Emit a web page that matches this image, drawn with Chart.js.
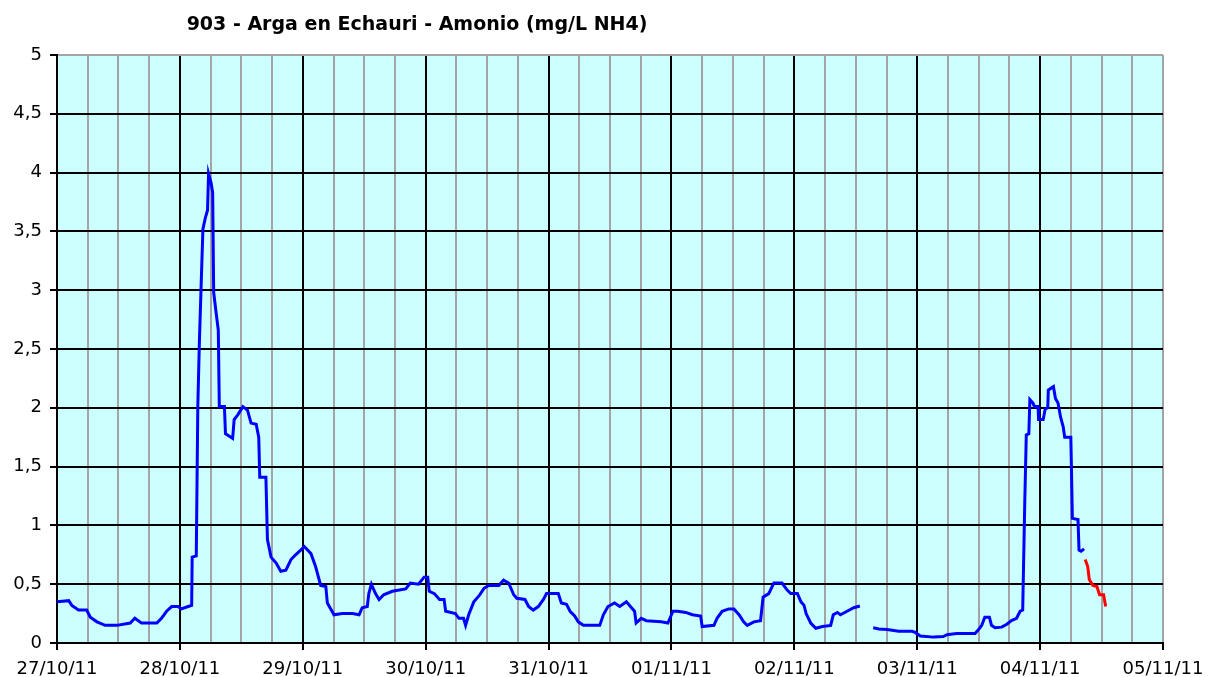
<!doctype html>
<html lang="es">
<head>
<meta charset="utf-8">
<title>903 - Arga en Echauri - Amonio</title>
<style>
  body { margin: 0; background: #fff; }
  #wrap { position: relative; width: 1208px; height: 677px; }
</style>
</head>
<body>
<div id="wrap"><canvas id="chart" width="1208" height="677"></canvas></div>

<script src="https://cdn.jsdelivr.net/npm/chart.js"></script>
<script>
    const chartTitle = '903 - Arga en Echauri - Amonio (mg/L NH4)';

    // etiquetas de día (una cada 24 h desde 27/10/11 00:00)
    const dayLabels = ['27/10/11', '28/10/11', '29/10/11', '30/10/11', '31/10/11',
        '01/11/11', '02/11/11', '03/11/11', '04/11/11', '05/11/11'];

    // serie azul: horas desde 27/10/11 00:00 y valor (null = hueco)
    const blueHours = [
        0, 2.3, 2.9, 4.2, 5.8, 6.5, 7.8, 9.4, 11.7, 14.3, 15.2, 16.5, 19.5, 20.4, 21.4, 22.4, 23.6, 24.3, 25.6, 26.3,
        26.4, 27.2, 27.5, 27.8, 28.2, 28.5, 29.0, 29.4, 29.6, 30.1, 30.4, 30.6, 31.1, 31.5, 31.7, 32.7, 32.9, 34.3,
        34.6, 35.3, 36.3, 37.2, 37.9, 38.9, 39.4, 39.6, 40.8, 41.1, 41.8, 42.8, 43.7, 44.7, 45.7, 46.6, 47.6, 48.3,
        49.6, 50.5, 51.5, 52.5, 52.8, 54.1, 55.7, 57.7, 59.0, 59.6, 60.6, 60.9, 61.4, 62.2, 62.9, 63.8, 65.5, 68.1,
        69.0, 70.6, 71.7, 72.4, 72.7, 73.7, 74.7, 75.6, 75.9, 77.8, 78.5, 79.4, 79.8, 80.4, 81.4, 82.4, 83.4, 84.3,
        86.3, 87.2, 88.2, 89.2, 89.8, 91.4, 92.1, 93.0, 94.0, 95.0, 95.6, 97.9, 98.5, 99.5, 100.2, 101.1, 101.8,
        102.8, 106.0, 106.7, 107.6, 108.9, 109.9, 111.2, 112.2, 112.8, 113.1, 114.1, 115.1, 118.0, 119.3, 120.0,
        120.3, 121.2, 122.8, 124.1, 125.7, 126.0, 128.3, 128.9, 129.9, 131.2, 132.2, 133.2, 134.1, 134.8, 136.1,
        137.4, 137.9, 139.0, 140.0, 141.6, 142.6, 143.3, 144.6, 145.3, 145.9, 146.3, 147.2, 148.2, 149.5, 151.1,
        151.6, 152.4, 153.0, 154.3, 155.6, 156.8, 158.0, 159.4, 160.5, 162.1, 164.4, 167.0, 167.6, 168.6, 171.2,
        173.1, 173.8, 175.7, 179.3, 179.9, 180.6, 181.2, 182.1, 182.5, 183.2, 184.5, 185.5, 186.4, 187.4, 188.1,
        188.6, 189.0, 189.3, 189.8, 190.0, 190.6, 190.9, 191.6, 191.7, 192.6, 193.0, 193.5, 193.6, 194.6, 195.0,
        195.5, 196.0, 196.5, 196.8, 198.0, 198.1, 198.3, 199.4, 199.6, 200.0, 200.6
    ];
    const blueValues = [
        0.35, 0.36, 0.32, 0.28, 0.28, 0.22, 0.18, 0.15, 0.15, 0.17, 0.21, 0.17, 0.17, 0.21, 0.27, 0.31, 0.31, 0.29, 0.31, 0.32,
        0.73, 0.74, 2.01, 2.55, 3.11, 3.52, 3.62, 3.68, 3.99, 3.91, 3.83, 2.98, 2.80, 2.66, 2.01, 2.01, 1.78, 1.74,
        1.90, 1.94, 2.01, 1.98, 1.87, 1.86, 1.75, 1.41, 1.41, 0.88, 0.73, 0.68, 0.61, 0.62, 0.71, 0.75, 0.79, 0.82,
        0.76, 0.65, 0.49, 0.48, 0.34, 0.24, 0.25, 0.25, 0.24, 0.30, 0.31, 0.42, 0.50, 0.42, 0.37, 0.41, 0.44, 0.46,
        0.51, 0.50, 0.56, 0.56, 0.44, 0.42, 0.37, 0.37, 0.27, 0.25, 0.21, 0.21, 0.15, 0.24, 0.35, 0.40, 0.465, 0.49,
        0.49, 0.535, 0.51, 0.41, 0.38, 0.37, 0.31, 0.28, 0.31, 0.37, 0.42, 0.42, 0.34, 0.33, 0.27, 0.23, 0.18,
        0.15, 0.15, 0.24, 0.31, 0.34, 0.31, 0.35, 0.30, 0.27, 0.17, 0.21, 0.19, 0.18, 0.17, 0.24,
        0.27, 0.27, 0.26, 0.24, 0.23, 0.14, 0.15, 0.21, 0.27, 0.29, 0.29, 0.24, 0.18, 0.15, 0.18,
        0.19, 0.39, 0.42, 0.51, 0.51, 0.45, 0.42, 0.42, 0.35, 0.32, 0.25, 0.17, 0.125, 0.14, 0.15,
        0.24, 0.26, 0.24, 0.27, 0.30, 0.315, null, 0.13, 0.12, 0.115, 0.10, 0.10, 0.09, 0.06, 0.05,
        0.055, 0.07, 0.08, 0.08, 0.11, 0.15, 0.22, 0.22, 0.15, 0.13, 0.135, 0.16, 0.19, 0.21, 0.27,
        0.28, 1.19, 1.77, 1.78, 2.07, 2.04, 2.01, 2.01, 1.90, 1.90, 1.99, 2.00, 2.15, 2.18, 2.08,
        2.04, 1.92, 1.84, 1.75, 1.75, 1.53, 1.06, 1.05, 0.79, 0.78, 0.80
    ];

    // serie roja (últimos datos)
    const redHours = [200.8, 201.3, 201.6, 202.3, 203.1, 203.6, 204.4, 204.8];
    const redValues = [0.71, 0.65, 0.54, 0.49, 0.48, 0.41, 0.41, 0.31];

    const yTicks = [0, 0.5, 1, 1.5, 2, 2.5, 3, 3.5, 4, 4.5, 5];

    const toPoints = (xs, ys) => xs.map((x, i) => ({ x: x, y: ys[i] }));

    const GRAY = '#a4a4a4';
    const FONT = 'DejaVu Sans';

    // fondo cian del área de trazado + título
    const plotBackground = {
        id: 'plotBackground',
        beforeDraw(chart) {
            const { ctx, chartArea: a } = chart;
            ctx.save();
            ctx.fillStyle = '#ccffff';
            ctx.fillRect(a.left, a.top, a.right - a.left, a.bottom - a.top);
            ctx.restore();
        },
        afterDraw(chart) {
            const ctx = chart.ctx;
            ctx.save();
            ctx.font = 'bold 19px ' + FONT;
            ctx.fillStyle = '#000';
            ctx.textAlign = 'center';
            ctx.textBaseline = 'middle';
            ctx.fillText(chartTitle, 417, 25);
            ctx.restore();
        }
    };

    new Chart(document.getElementById('chart'), {
        type: 'line',
        data: {
            datasets: [{
                label: 'Amonio',
                data: toPoints(blueHours, blueValues),
                borderColor: '#0000ff',
                borderWidth: 3,
                pointRadius: 0,
                tension: 0,
                spanGaps: false
            }, {
                label: 'Amonio (sin validar)',
                data: toPoints(redHours, redValues),
                borderColor: '#ff0000',
                borderWidth: 3,
                pointRadius: 0,
                tension: 0
            }]
        },
        options: {
            responsive: false,
            animation: false,
            layout: { padding: { top: 55, right: 45, left: 0, bottom: 0 } },
            plugins: {
                legend: { display: false },
                tooltip: { enabled: false }
            },
            scales: {
                x: {
                    type: 'linear',
                    min: 0,
                    max: 216,
                    afterFit: s => { s.height = 34; s.paddingLeft = 0; s.paddingRight = 0; },
                    afterBuildTicks: s => {
                        s.ticks = [];
                        for (let h = 0; h <= 216; h += 6) s.ticks.push({ value: h });
                    },
                    ticks: {
                        autoSkip: false,
                        maxRotation: 0,
                        padding: 9,
                        color: '#000',
                        font: { family: FONT, size: 18 },
                        callback: v => (v % 24 === 0 ? dayLabels[v / 24] : '')
                    },
                    grid: {
                        lineWidth: 2,
                        color: c => (c.tick && c.tick.value % 24 === 0 && c.tick.value !== 216 ? '#000' : GRAY),
                        tickLength: 7,
                        tickWidth: 2,
                        tickColor: c => (c.tick && c.tick.value % 24 === 0 ? '#000' : 'rgba(0,0,0,0)')
                    },
                    border: { color: '#000', width: 2 }
                },
                y: {
                    min: 0,
                    max: 5,
                    afterFit: s => { s.width = 57; },
                    afterBuildTicks: s => { s.ticks = yTicks.map(v => ({ value: v })); },
                    ticks: {
                        padding: 8,
                        color: '#000',
                        font: { family: FONT, size: 18 },
                        callback: v => String(v).replace('.', ',')
                    },
                    grid: {
                        lineWidth: 2,
                        color: c => (c.tick && c.tick.value === 5 ? GRAY : '#000'),
                        tickLength: 7,
                        tickWidth: 2,
                        tickColor: '#000'
                    },
                    border: { color: '#000', width: 2 }
                }
            }
        },
        plugins: [plotBackground]
    });
</script>
</body>
</html>
